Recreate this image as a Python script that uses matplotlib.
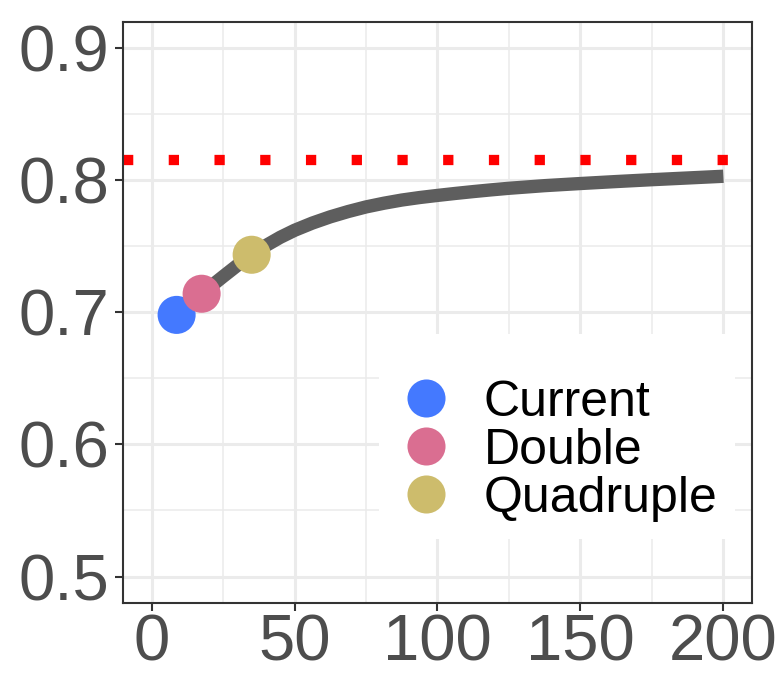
import matplotlib.pyplot as plt
from matplotlib.lines import Line2D

plt.rcParams['font.family'] = ['Liberation Sans', 'DejaVu Sans']

# curva
curva_x = [8.75, 12.5, 17.5, 21.25, 25, 30, 35, 40, 45, 50, 56.25, 62.5, 68.75, 75, 81.25, 87.5, 93.75, 100,
           106.25, 112.5, 118.75, 125, 137.5, 150, 162.5, 175, 187.5, 200]
curva_y = [0.698, 0.705, 0.714, 0.7205, 0.727, 0.7355, 0.7435, 0.7505, 0.7567, 0.762, 0.7675, 0.7722, 0.7762, 0.7797,
           0.7825, 0.7849, 0.7868, 0.7884, 0.7899, 0.7913, 0.7926, 0.7938, 0.7958, 0.7974, 0.7989, 0.8003, 0.8016, 0.8029]

# cenarios
cenarios = ['Current', 'Double', 'Quadruple']
cenarios_x = [8.75, 17.5, 35]
cenarios_y = [0.698, 0.714, 0.7435]
cores = ['#4479FF', '#DA6E91', '#CDBC6C']

limite = 0.8153

x_ticks = [0, 50, 100, 150, 200]
y_ticks = [0.5, 0.6, 0.7, 0.8, 0.9]

fig = plt.figure(figsize=(7.81, 6.73), dpi=100)
ax = fig.add_axes([123 / 781, 1 - 603 / 673, (752 - 123) / 781, (603 - 21.5) / 673])

ax.set_xlim(-10, 210)
ax.set_ylim(0.48, 0.92)

# grade estilo theme_bw
for v in [25, 75, 125, 175]:
    ax.axvline(v, color='#EBEBEB', lw=1.1, zorder=0)
for v in [0.55, 0.65, 0.75, 0.85]:
    ax.axhline(v, color='#EBEBEB', lw=1.1, zorder=0)
for v in x_ticks:
    ax.axvline(v, color='#EBEBEB', lw=2.2, zorder=0)
for v in y_ticks:
    ax.axhline(v, color='#EBEBEB', lw=2.2, zorder=0)

ax.axhline(limite, color='#FF0000', lw=7.4, ls=(0, (1, 3.45)), dash_capstyle='butt', zorder=2)
ax.plot(curva_x, curva_y, color='#5E5E5E', lw=9.6, solid_capstyle='butt', solid_joinstyle='round', zorder=3)
ax.scatter(cenarios_x, cenarios_y, s=27.4 ** 2, c=cores, linewidths=0, zorder=4)

ax.set_xticks(x_ticks)
ax.set_yticks(y_ticks)
ax.set_xticklabels([str(v) for v in x_ticks])
ax.set_yticklabels(['%.1f' % v for v in y_ticks])
ax.tick_params(labelsize=47, labelcolor='#4D4D4D', color='#333333', length=6, width=1.5, pad=4)
ax.tick_params(axis='x', pad=1.5)
for s in ax.spines.values():
    s.set_color('#333333')
    s.set_linewidth(1.5)

handles = [Line2D([], [], ls='', marker='o', markersize=27.4, markerfacecolor=c, markeredgewidth=0) for c in cores]
leg = ax.legend(handles, cenarios, fontsize=36, loc='lower right', bbox_to_anchor=(0.973, 0.11),
                frameon=True, fancybox=False, edgecolor='none', framealpha=1,
                title=' ', title_fontsize=20,
                labelspacing=0.04, handletextpad=0.55, handlelength=1.2, borderpad=0.35, borderaxespad=0)
leg.set_zorder(5)

plt.savefig('out.png', dpi=100)
